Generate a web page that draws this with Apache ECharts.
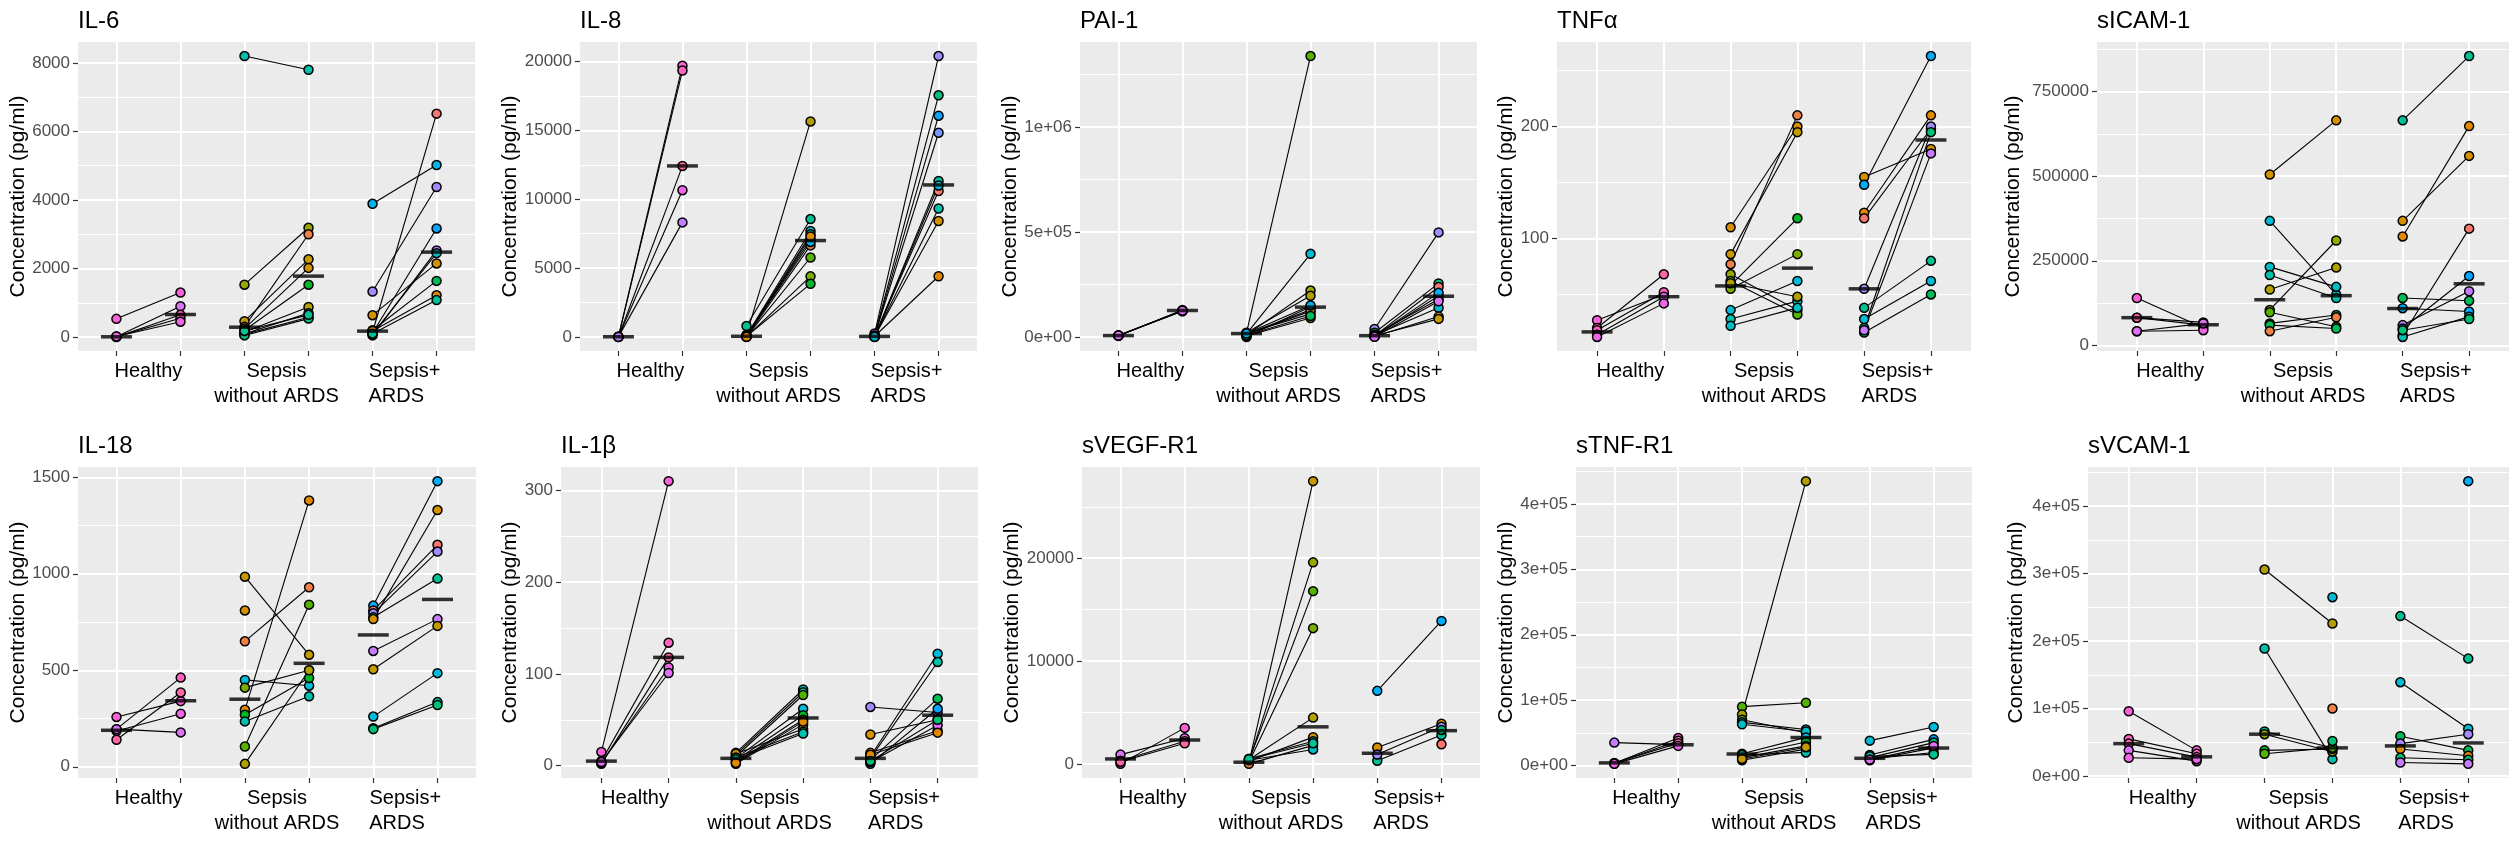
<!DOCTYPE html>
<html><head><meta charset="utf-8">
<script src="https://cdn.jsdelivr.net/npm/echarts@6/dist/echarts.min.js"></script>
<style>html,body{margin:0;padding:0;background:#fff}#c{width:2509px;height:842px}</style>
</head><body><div id="c"></div>
<script>
// ---------------- DATA ----------------
const GROUPS = ['Healthy', 'Sepsis\nwithout ARDS', 'Sepsis+\nARDS   '];
const TITLES = ['IL-6', 'IL-8', 'PAI-1', 'TNFα', 'sICAM-1', 'IL-18', 'IL-1β', 'sVEGF-R1', 'sTNF-R1', 'sVCAM-1'];
const Y_NAME = 'Concentration (pg/ml)';
// each row: [pre, post, subject]; medians: [H pre, H post, S pre, S post, A pre, A post]

const IL6_H = [[533,1300,24],[10,900,22],[5,650,25],[15,550,26],[20,450,23]];
const IL6_S = [[8200,7800,13],[1530,3190,6],[465,2270,4],[300,3000,1],[250,2020,3],[200,1530,9],[150,880,5],[100,700,15],[80,580,8],[50,540,11],[180,650,12]];
const IL6_A = [[3890,5020,16],[1330,4380,20],[640,2150,3],[150,6520,0],[50,2530,21],[120,3170,18],[90,2450,14],[200,1640,10],[180,1220,2],[100,1080,12]];
const IL6_MED = [10,660,290,1780,175,2480];
const IL6_TICKS = [0,2000,4000,6000,8000];
const IL6_LABELS = ['0','2000','4000','6000','8000'];

const IL8_H = [[20,19700,24],[10,19350,25],[0,12420,26],[15,10660,23],[5,8320,21]];
const IL8_S = [[790,8560,12],[150,15650,5],[0,6650,1],[100,7700,14],[60,7450,13],[40,7100,3],[30,5770,8],[20,4400,7],[50,3860,9],[80,6900,16],[10,7300,2]];
const IL8_A = [[250,20400,20],[100,17550,11],[80,16070,18],[60,14830,19],[0,11330,12],[20,10600,0],[40,9330,13],[30,8420,3],[50,4410,2],[10,11000,15]];
const IL8_MED = [15,12420,50,7000,40,11040];
const IL8_TICKS = [0,5000,10000,15000,20000];
const IL8_LABELS = ['0','5000','10000','15000','20000'];

const PAI1_H = [[6000,126000,25],[8000,124000,24],[5000,128000,26],[7000,122000,23],[6500,125000,22]];
const PAI1_S = [[19000,1338000,8],[15000,396000,15],[10000,221000,6],[20000,196000,5],[0,144000,1],[12000,123000,12],[18000,110000,14],[5000,90000,3],[14000,130000,2],[8000,100000,10],[16000,150000,16]];
const PAI1_A = [[38000,498000,20],[20000,255000,11],[5000,238000,0],[3000,195000,19],[10000,180000,21],[8000,139000,15],[2000,97000,3],[6000,86000,4],[4000,210000,17],[1000,170000,22]];
const PAI1_MED = [6500,126000,16000,142000,6000,194000];
const PAI1_TICKS = [0,500000,1000000];
const PAI1_LABELS = ['0e+00','5e+05','1e+06'];

const TNFA_H = [[27,50,24],[20,68,26],[18,52,25],[14,48,22],[12,42,23]];
const TNFA_S = [[110,200,3],[86,195,4],[77,210,1],[68,36,6],[62,32,8],[58,118,9],[55,86,7],[36,62,15],[28,44,13],[22,38,14],[60,48,5]];
const TNFA_A = [[155,180,3],[148,263,17],[123,210,2],[118,198,0],[55,200,20],[20,195,11],[38,80,12],[28,62,15],[16,50,10],[18,176,21]];
const TNFA_MED = [16.5,48,57.6,73.5,55,188];
const TNFA_TICKS = [100,200];
const TNFA_LABELS = ['100','200'];

const ICAM_H = [[140000,52000,24],[82000,60000,25],[82000,68000,26],[42000,45000,23],[42000,65000,22]];
const ICAM_S = [[505000,665000,3],[368000,150000,15],[232000,173000,14],[208000,140000,13],[165000,230000,5],[105000,310000,6],[98000,55000,8],[65000,90000,9],[60000,50000,10],[42000,83000,1]];
const ICAM_A = [[665000,855000,12],[368000,560000,3],[322000,648000,2],[140000,132000,10],[110000,100000,17],[60000,160000,21],[30000,345000,0],[50000,205000,18],[25000,85000,13],[45000,78000,11]];
const ICAM_MED = [82000,61000,135000,147000,109000,182000];
const ICAM_TICKS = [0,250000,500000,750000];
const ICAM_LABELS = ['0','250000','500000','750000'];

const IL18_H = [[258,340,24],[195,462,25],[185,275,23],[140,385,26],[195,178,22]];
const IL18_S = [[985,580,4],[810,null,3],[650,930,1],[450,420,15],[410,500,7],[295,1380,2],[270,460,9],[235,365,13],[105,840,8],[15,500,5]];
const IL18_A = [[835,1480,17],[810,1150,0],[795,1115,20],[775,975,12],[765,1330,3],[600,765,21],[505,730,4],[260,485,15],[200,335,13],[195,320,11]];
const IL18_MED = [189,342,350,536,683,867];
const IL18_TICKS = [0,500,1000,1500];
const IL18_LABELS = ['0','500','1000','1500'];

const IL1B_H = [[15,310,24],[5,134,25],[2,118,26],[3,107,23],[4,101,22]];
const IL1B_S = [[14,83,14],[12,80,12],[10,77,8],[8,62,15],[6,55,9],[4,50,6],[2,45,1],[13,40,4],[9,37,11],[7,35,13],[3,48,2]];
const IL1B_A = [[64,58,20],[34,50,3],[14,38,1],[10,122,15],[8,113,13],[6,73,10],[2,62,18],[4,44,22],[12,36,2],[5,50,11]];
const IL1B_MED = [5,118,8,52,8,55];
const IL1B_TICKS = [0,100,200,300];
const IL1B_LABELS = ['0','100','200','300'];

const VEGF_H = [[900,2500,22],[0,3500,24],[300,2200,25],[200,2000,26]];
const VEGF_S = [[100,27500,4],[200,19600,6],[300,16800,8],[150,13200,7],[400,4500,5],[250,2600,3],[500,2200,15],[0,1800,1],[350,1400,14],[450,2000,12]];
const VEGF_A = [[7100,13900,17],[1600,3900,3],[300,2800,12],[900,3600,20],[null,1900,0],[null,3300,11]];
const VEGF_MED = [480,2320,160,3600,1030,3230];
const VEGF_TICKS = [0,10000,20000];
const VEGF_LABELS = ['0','10000','20000'];

const TNFR_H = [[35000,32000,21],[3500,42000,24],[3000,38000,25],[4000,34000,26],[2500,30000,23]];
const TNFR_S = [[90000,96000,8],[78000,435000,5],[70000,50000,6],[66000,55000,15],[63000,52000,14],[18000,43000,16],[15000,36000,9],[12000,30000,12],[8000,25000,1],[16000,20000,13],[10000,28000,4]];
const TNFR_A = [[38000,59000,15],[16000,40000,18],[12000,35000,11],[8000,27000,20],[10000,20000,3],[14000,17000,12],[9000,30000,22]];
const TNFR_MED = [4000,31700,17600,42800,11000,26700];
const TNFR_TICKS = [0,100000,200000,300000,400000];
const TNFR_LABELS = ['0e+00','1e+05','2e+05','3e+05','4e+05'];

const VCAM_H = [[96000,38000,24],[55000,33000,25],[48000,28000,26],[38000,22000,22],[27000,25000,23]];
const VCAM_S = [[306000,226000,5],[189000,25000,13],[66000,42000,12],[62000,36000,6],[38000,40000,9],[33000,42000,8],[null,265000,15],[null,100000,1],[null,52000,11]];
const VCAM_A = [[237000,174000,12],[139000,70000,15],[59000,38000,10],[48000,62000,20],[40000,30000,2],[27000,24000,11],[20000,18000,21],[null,437000,17]];
const VCAM_MED = [48000,28400,62000,41700,44600,49000];
const VCAM_TICKS = [0,100000,200000,300000,400000];
const VCAM_LABELS = ['0e+00','1e+05','2e+05','3e+05','4e+05'];

// ---------------- BUILD ----------------
const PANELS = [
  {groups:[IL6_H,IL6_S,IL6_A], med:IL6_MED, ticks:IL6_TICKS, labels:IL6_LABELS},
  {groups:[IL8_H,IL8_S,IL8_A], med:IL8_MED, ticks:IL8_TICKS, labels:IL8_LABELS},
  {groups:[PAI1_H,PAI1_S,PAI1_A], med:PAI1_MED, ticks:PAI1_TICKS, labels:PAI1_LABELS},
  {groups:[TNFA_H,TNFA_S,TNFA_A], med:TNFA_MED, ticks:TNFA_TICKS, labels:TNFA_LABELS},
  {groups:[ICAM_H,ICAM_S,ICAM_A], med:ICAM_MED, ticks:ICAM_TICKS, labels:ICAM_LABELS},
  {groups:[IL18_H,IL18_S,IL18_A], med:IL18_MED, ticks:IL18_TICKS, labels:IL18_LABELS},
  {groups:[IL1B_H,IL1B_S,IL1B_A], med:IL1B_MED, ticks:IL1B_TICKS, labels:IL1B_LABELS},
  {groups:[VEGF_H,VEGF_S,VEGF_A], med:VEGF_MED, ticks:VEGF_TICKS, labels:VEGF_LABELS},
  {groups:[TNFR_H,TNFR_S,TNFR_A], med:TNFR_MED, ticks:TNFR_TICKS, labels:TNFR_LABELS},
  {groups:[VCAM_H,VCAM_S,VCAM_A], med:VCAM_MED, ticks:VCAM_TICKS, labels:VCAM_LABELS}
];
// layout: left, top, width, height, nameGap
const LAYOUT = [
  [78,42,397,309,49],[580,42,397,309,56],[1080,42,397,309,58],[1557,42,414,309,38],[2097,42,414,309,73],
  [78,467,398,311,44],[561,467,417,311,37],[1082,467,398,311,57],[1576,467,396,311,57],[2088,467,423,311,61]
];
const FONT = "'Liberation Sans', Arial, Helvetica, sans-serif";

function hcl(h, c, l) {
  const hr = h * Math.PI / 180;
  const U = c * Math.cos(hr), V = c * Math.sin(hr);
  const Xn = 95.047, Yn = 100, Zn = 108.883;
  const den = Xn + 15 * Yn + 3 * Zn;
  const un = 4 * Xn / den, vn = 9 * Yn / den;
  const Y = l > 8 ? Yn * Math.pow((l + 16) / 116, 3) : Yn * l / 903.3;
  const u = U / (13 * l) + un, v = V / (13 * l) + vn;
  const X = Y * 9 * u / (4 * v);
  const Z = Y * (12 - 3 * u - 20 * v) / (4 * v);
  const x = X / 100, y = Y / 100, z = Z / 100;
  let r = 3.2406 * x - 1.5372 * y - 0.4986 * z;
  let g = -0.9689 * x + 1.8758 * y + 0.0415 * z;
  let b = 0.0557 * x - 0.2040 * y + 1.0570 * z;
  const gam = t => { t = t <= 0.0031308 ? 12.92 * t : 1.055 * Math.pow(t, 1 / 2.4) - 0.055; return Math.round(Math.max(0, Math.min(1, t)) * 255); };
  return 'rgb(' + gam(r) + ',' + gam(g) + ',' + gam(b) + ')';
}
const PALETTE = Array.from({length: 28}, (_, k) => hcl(15 + 360 * k / 28, 100, 65));

const option = {animation: false, backgroundColor: '#ffffff', title: [], grid: [], xAxis: [], yAxis: [], series: []};

PANELS.forEach((p, i) => {
  const [L, T, W, H, gap] = LAYOUT[i];
  const vals = [];
  p.groups.forEach(g => g.forEach(r => { if (r[0] != null) vals.push(r[0]); if (r[1] != null) vals.push(r[1]); }));
  p.med.forEach(v => vals.push(v));
  const lo = Math.min(...vals), hi = Math.max(...vals), pad = (hi - lo) * 0.05;
  const ymin = lo - pad, ymax = hi + pad;

  option.title.push({text: TITLES[i], left: L, top: T - 33, padding: 0,
    textStyle: {fontFamily: FONT, fontSize: 24, fontWeight: 'normal', color: '#000'}});
  option.grid.push({left: L, top: T, width: W, height: H, show: true, backgroundColor: '#EBEBEB', borderWidth: 0, z: 0});
  option.xAxis.push({type: 'value', gridIndex: i, min: 0.4, max: 6.6,
    axisLine: {show: false, onZero: false},
    axisTick: {show: true, customValues: [1,2,3,4,5,6], length: 5, lineStyle: {color: '#333', width: 1.2}},
    axisLabel: {customValues: [1.5,3.5,5.5], formatter: v => GROUPS[Math.round((v - 1.5) / 2)],
      fontFamily: FONT, fontSize: 20, color: '#000', lineHeight: 25, margin: 8},
    splitLine: {show: false}});
  option.yAxis.push({type: 'value', gridIndex: i, min: ymin, max: ymax,
    axisLine: {show: false, onZero: false},
    axisTick: {show: true, customValues: p.ticks, length: 5, lineStyle: {color: '#333', width: 1.2}},
    axisLabel: {customValues: p.ticks, formatter: v => { const k = p.ticks.indexOf(v); return k >= 0 ? p.labels[k] : ''; },
      fontFamily: FONT, fontSize: 17, color: '#4D4D4D', margin: 8},
    splitLine: {show: false},
    name: Y_NAME, nameLocation: 'middle', nameGap: gap,
    nameTextStyle: {fontFamily: FONT, fontSize: 21, color: '#000'}});

  // grid lines (derived from the tick arrays and x positions)
  const step = p.ticks[1] - p.ticks[0];
  const minors = [];
  p.ticks.forEach(t => [t - step / 2, t + step / 2].forEach(m => { if (m > ymin && m < ymax && !minors.includes(m)) minors.push(m); }));
  const ml = [];
  minors.forEach(m => ml.push({yAxis: m, lineStyle: {color: '#fff', width: 1, type: 'solid'}}));
  p.ticks.forEach(t => { if (t > ymin && t < ymax) ml.push({yAxis: t, lineStyle: {color: '#fff', width: 2, type: 'solid'}}); });
  [1,2,3,4,5,6].forEach(x => ml.push({xAxis: x, lineStyle: {color: '#fff', width: 2, type: 'solid'}}));
  option.series.push({type: 'line', xAxisIndex: i, yAxisIndex: i, data: [], z: 1, silent: true,
    markLine: {z: 1, silent: true, symbol: ['none', 'none'], label: {show: false}, animation: false, data: ml}});

  // pair lines
  const segs = [];
  p.groups.forEach((g, gi) => g.forEach(r => { if (r[0] != null && r[1] != null) segs.push([2 * gi + 1, r[0], 2 * gi + 2, r[1]]); }));
  option.series.push({type: 'custom', xAxisIndex: i, yAxisIndex: i, z: 10, silent: true, data: segs,
    encode: {x: [0, 2], y: [1, 3]},
    renderItem: (params, api) => {
      const a = api.coord([api.value(0), api.value(1)]);
      const b = api.coord([api.value(2), api.value(3)]);
      return {type: 'line', shape: {x1: a[0], y1: a[1], x2: b[0], y2: b[1]}, style: {stroke: '#000', lineWidth: 1.1}};
    }});

  // points
  const pts = [];
  p.groups.forEach((g, gi) => g.forEach(r => {
    if (r[0] != null) pts.push([2 * gi + 1, r[0], r[2]]);
    if (r[1] != null) pts.push([2 * gi + 2, r[1], r[2]]);
  }));
  option.series.push({type: 'scatter', xAxisIndex: i, yAxisIndex: i, z: 11, symbolSize: 9, data: pts,
    itemStyle: {color: prm => PALETTE[prm.data[2]], borderColor: '#000', borderWidth: 1.5, opacity: 1}});

  // medians
  option.series.push({type: 'scatter', xAxisIndex: i, yAxisIndex: i, z: 12, symbol: 'rect', symbolSize: [31, 3.5],
    data: p.med.map((v, k) => [k + 1, v]), itemStyle: {color: '#000'}});
});

const chart = echarts.init(document.getElementById('c'), null, {renderer: 'canvas', width: 2509, height: 842});
chart.setOption(option);
</script>
</body></html>
